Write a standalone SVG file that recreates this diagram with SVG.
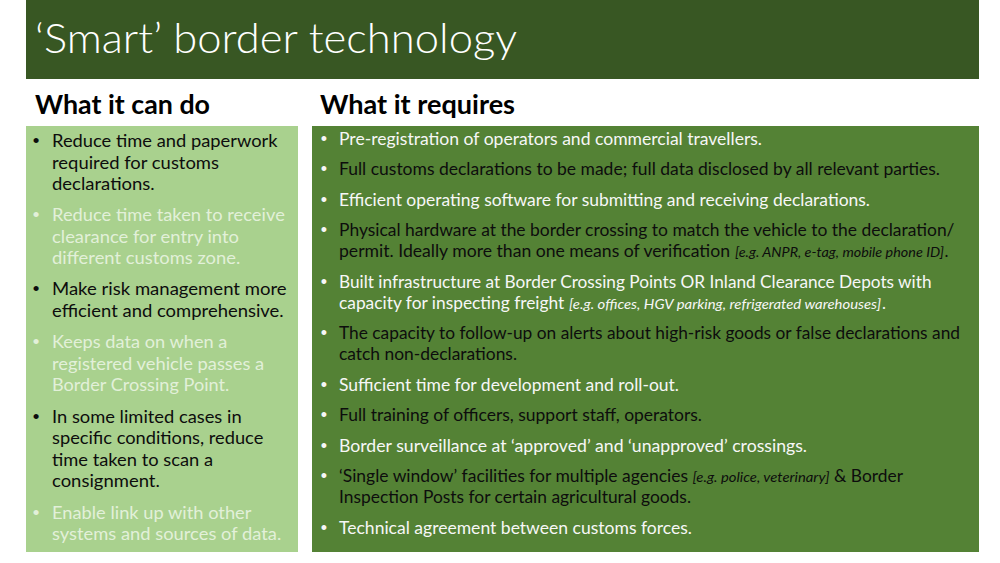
<svg xmlns="http://www.w3.org/2000/svg" width="1000" height="563" viewBox="0 0 1000 563">
<style>
text{font-family:Lato,"Open Sans","Liberation Sans",sans-serif}
.t{font-size:40.5px;font-weight:300;fill:#ffffff}
.h{font-size:25.8px;font-weight:700;fill:#000000}
.l{font-size:17.6px}
.r{font-size:16.8px}
.i{font-size:13.2px;font-style:italic}
.dk{fill:#0d0d0d}
.lt{fill:#e2f0d9}
.wt{fill:#f7f7f7}
.b{font-family:"Liberation Sans",Arial,sans-serif;text-anchor:middle}
.bl{font-size:19px}
.br{font-size:18px;fill:#f7f7f7}
</style>
<rect width="1000" height="563" fill="#ffffff"/>
<g id="title">
<rect x="26" y="0" width="953" height="79" fill="#385723"/>
<text class="t" x="35" y="53" textLength="482" lengthAdjust="spacingAndGlyphs">‘Smart’ border technology</text>
</g>
<g id="header-left">
<text class="h" x="35" y="114" textLength="175" lengthAdjust="spacingAndGlyphs">What it can do</text>
</g>
<g id="header-right">
<text class="h" x="320" y="114" textLength="195" lengthAdjust="spacingAndGlyphs">What it requires</text>
</g>
<g id="left-panel">
<rect x="26" y="126" width="272" height="426" fill="#a9d18e"/>
<text class="b bl dk" x="36" y="147">•</text>
<text class="l dk" x="52" y="147" textLength="225.5" lengthAdjust="spacingAndGlyphs">Reduce time and paperwork</text>
<text class="l dk" x="52" y="168.5" textLength="167" lengthAdjust="spacingAndGlyphs">required for customs</text>
<text class="l dk" x="52" y="190" textLength="102.7" lengthAdjust="spacingAndGlyphs">declarations.</text>
<text class="b bl lt" x="36" y="221">•</text>
<text class="l lt" x="52" y="221" textLength="232.8" lengthAdjust="spacingAndGlyphs">Reduce time taken to receive</text>
<text class="l lt" x="52" y="242.5" textLength="187" lengthAdjust="spacingAndGlyphs">clearance for entry into</text>
<text class="l lt" x="52" y="264" textLength="188.3" lengthAdjust="spacingAndGlyphs">different customs zone.</text>
<text class="b bl dk" x="36" y="295">•</text>
<text class="l dk" x="52" y="295" textLength="234.6" lengthAdjust="spacingAndGlyphs">Make risk management more</text>
<text class="l dk" x="52" y="316.5" textLength="231.7" lengthAdjust="spacingAndGlyphs">efficient and comprehensive.</text>
<text class="b bl lt" x="36" y="348">•</text>
<text class="l lt" x="52" y="348" textLength="175.4" lengthAdjust="spacingAndGlyphs">Keeps data on when a</text>
<text class="l lt" x="52" y="369.5" textLength="212.2" lengthAdjust="spacingAndGlyphs">registered vehicle passes a</text>
<text class="l lt" x="52" y="391" textLength="177.3" lengthAdjust="spacingAndGlyphs">Border Crossing Point.</text>
<text class="b bl dk" x="36" y="422.5">•</text>
<text class="l dk" x="52" y="422.5" textLength="189.6" lengthAdjust="spacingAndGlyphs">In some limited cases in</text>
<text class="l dk" x="52" y="444" textLength="211.3" lengthAdjust="spacingAndGlyphs">specific conditions, reduce</text>
<text class="l dk" x="52" y="465.5" textLength="161" lengthAdjust="spacingAndGlyphs">time taken to scan a</text>
<text class="l dk" x="52" y="487" textLength="107.8" lengthAdjust="spacingAndGlyphs">consignment.</text>
<text class="b bl lt" x="36" y="518.5">•</text>
<text class="l lt" x="52" y="518.5" textLength="199.4" lengthAdjust="spacingAndGlyphs">Enable link up with other</text>
<text class="l lt" x="52" y="540" textLength="229.3" lengthAdjust="spacingAndGlyphs">systems and sources of data.</text>
</g>
<g id="right-panel">
<rect x="312" y="126" width="667" height="426" fill="#548235"/>
<text class="b br" x="324" y="144.5">•</text>
<text class="b br" x="324" y="175">•</text>
<text class="b br" x="324" y="205.5">•</text>
<text class="b br" x="324" y="236">•</text>
<text class="b br" x="324" y="287.5">•</text>
<text class="b br" x="324" y="339">•</text>
<text class="b br" x="324" y="390.5">•</text>
<text class="b br" x="324" y="421">•</text>
<text class="b br" x="324" y="451.5">•</text>
<text class="b br" x="324" y="482">•</text>
<text class="b br" x="324" y="533.5">•</text>
<text class="r wt" x="339" y="144.5" textLength="423" lengthAdjust="spacingAndGlyphs">Pre-registration of operators and commercial travellers.</text>
<text class="r dk" x="339" y="175" textLength="601" lengthAdjust="spacingAndGlyphs">Full customs declarations to be made; full data disclosed by all relevant parties.</text>
<text class="r wt" x="339" y="205.5" textLength="531" lengthAdjust="spacingAndGlyphs">Efficient operating software for submitting and receiving declarations.</text>
<text class="r dk" x="339" y="236" textLength="615.5" lengthAdjust="spacingAndGlyphs">Physical hardware at the border crossing to match the vehicle to the declaration/</text>
<text class="r dk" x="339" y="257" textLength="391" lengthAdjust="spacingAndGlyphs">permit. Ideally more than one means of verification</text>
<text class="i dk" x="735" y="257" textLength="209" lengthAdjust="spacingAndGlyphs">[e.g. ANPR, e-tag, mobile phone ID]</text>
<text class="r dk" x="944.5" y="257">.</text>
<text class="r wt" x="339" y="287.5" textLength="592.5" lengthAdjust="spacingAndGlyphs">Built infrastructure at Border Crossing Points OR Inland Clearance Depots with</text>
<text class="r wt" x="339" y="308.5" textLength="225.3" lengthAdjust="spacingAndGlyphs">capacity for inspecting freight</text>
<text class="i wt" x="569" y="308.5" textLength="312" lengthAdjust="spacingAndGlyphs">[e.g. offices, HGV parking, refrigerated warehouses]</text>
<text class="r wt" x="882" y="308.5">.</text>
<text class="r dk" x="339" y="339" textLength="621" lengthAdjust="spacingAndGlyphs">The capacity to follow-up on alerts about high-risk goods or false declarations and</text>
<text class="r dk" x="339" y="360" textLength="178" lengthAdjust="spacingAndGlyphs">catch non-declarations.</text>
<text class="r wt" x="339" y="390.5" textLength="340" lengthAdjust="spacingAndGlyphs">Sufficient time for development and roll-out.</text>
<text class="r dk" x="339" y="421" textLength="363" lengthAdjust="spacingAndGlyphs">Full training of officers, support staff, operators.</text>
<text class="r wt" x="339" y="451.5" textLength="468" lengthAdjust="spacingAndGlyphs">Border surveillance at ‘approved’ and ‘unapproved’ crossings.</text>
<text class="r dk" x="339" y="482" textLength="349" lengthAdjust="spacingAndGlyphs">‘Single window’ facilities for multiple agencies</text>
<text class="i dk" x="692.5" y="482" textLength="137" lengthAdjust="spacingAndGlyphs">[e.g. police, veterinary]</text>
<text class="r dk" x="834" y="482" textLength="69" lengthAdjust="spacingAndGlyphs">&amp; Border</text>
<text class="r dk" x="339" y="503" textLength="352" lengthAdjust="spacingAndGlyphs">Inspection Posts for certain agricultural goods.</text>
<text class="r wt" x="339" y="533.5" textLength="353" lengthAdjust="spacingAndGlyphs">Technical agreement between customs forces.</text>
</g>
</svg>
